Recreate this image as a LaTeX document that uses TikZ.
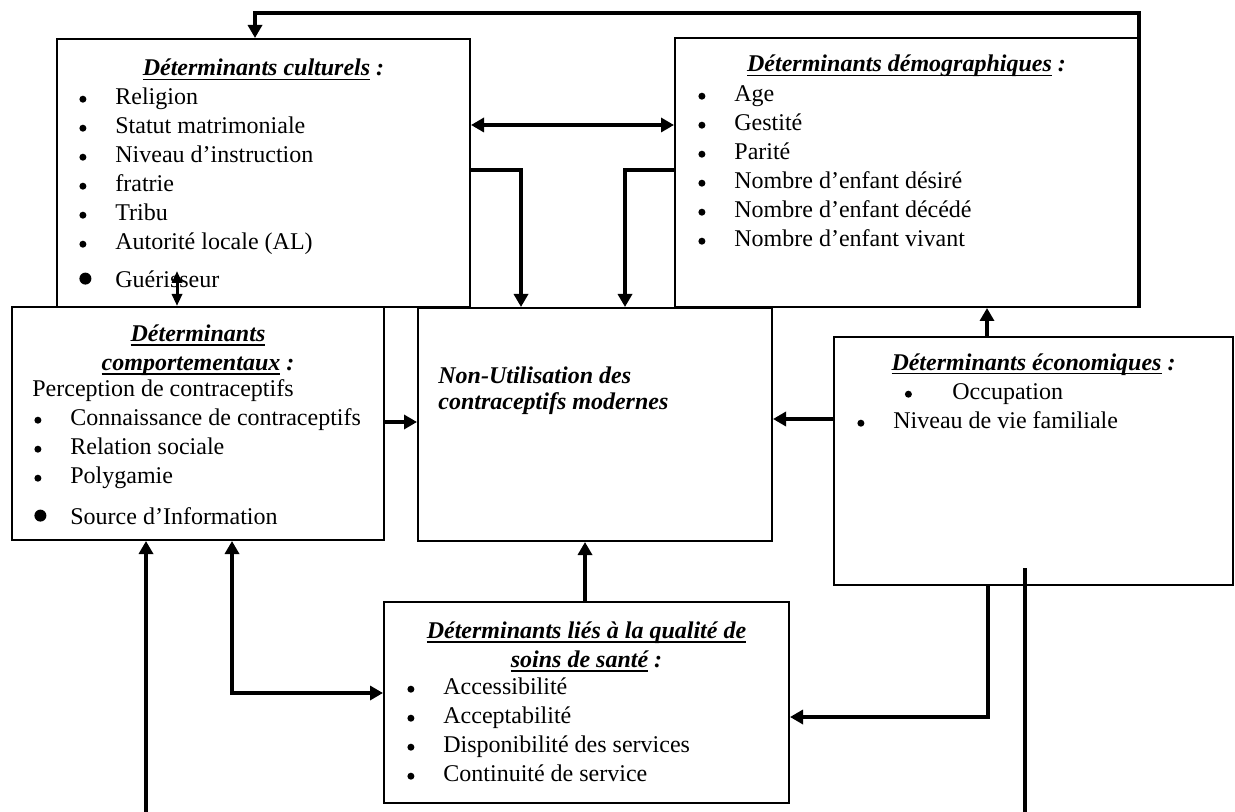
\documentclass[tikz,border=0pt]{standalone}
\usepackage{fontspec}
\setmainfont{Liberation Serif}
\usetikzlibrary{arrows.meta,fit}

\newsavebox\soulbox
\newcommand\soul[1]{\sbox\soulbox{#1}\rlap{\vrule height -1.4pt depth 2.2pt width \wd\soulbox}\usebox\soulbox}
\newcommand\puce{\tikz[baseline=0pt]\fill (1.75pt,2.6pt) circle (1.75pt);}
\newcommand\grossepuce{\tikz[baseline=0pt]\fill (3pt,4.4pt) circle (3pt);}
\newcommand\itm[1]{\strut\makebox[18pt][l]{\puce}#1}
\newcommand\bigitm[1]{\strut\makebox[18pt][l]{\grossepuce}#1}
\newcommand\titre[1]{\soul{#1} :}

\begin{document}
\begin{tikzpicture}[x=0.5pt, y=-0.5pt,
    box/.style={draw, line width=1pt, inner sep=0pt},
    txt/.style={inner sep=0pt, align=left, font=\fontsize{12pt}{14.5pt}\selectfont},
    ttl/.style={inner sep=0pt, align=center, font=\fontsize{12pt}{14.5pt}\selectfont\bfseries\itshape},
    link/.style={line width=2.2pt},
    fine/.style={line width=1.5pt, >={Triangle[length=6pt,width=5pt]}},
    >={Triangle[length=6.5pt,width=7pt]}]
    \path[use as bounding box, fill=white] (0,0) rectangle (1235,812);

    % Cadres
    \node[box, fit={(57,39) (470,307)}] (cult) {};
    \node[box, fit={(675,38) (1138,307)}] (demo) {};
    \node[box, fit={(12,307) (384,540)}] (comp) {};
    \node[box, fit={(418,308) (772,541)}] (nonu) {};
    \node[box, fit={(834,337) (1233,585)}] (econ) {};
    \node[box, fit={(384,602) (789,803)}] (qual) {};

    % Déterminants culturels
    \node[ttl, anchor=base] (cult-t) at (cult.north |- 0,76) {\titre{Déterminants culturels}};
    \node[txt, anchor=north west] (cult-l) at (79,83.7) {\itm{Religion}\\ \itm{Statut matrimoniale}\\
        \itm{Niveau d’instruction}\\ \itm{fratrie}\\ \itm{Tribu}\\ \itm{Autorité locale (AL)}\\[4.5pt]
        \bigitm{Guérisseur}};

    % Déterminants démographiques
    \node[ttl, anchor=base] (demo-t) at (demo.north |- 0,72) {\titre{Déterminants démographiques}};
    \node[txt, anchor=north west] (demo-l) at (698,80.7) {\itm{Age}\\ \itm{Gestité}\\ \itm{Parité}\\
        \itm{Nombre d’enfant désiré}\\ \itm{Nombre d’enfant décédé}\\ \itm{Nombre d’enfant vivant}};

    % Déterminants comportementaux
    \node[ttl, anchor=north] (comp-t) at (comp.north |- 0,320.7) {\strut\soul{Déterminants}\\ \strut\titre{comportementaux}};
    \node[txt, anchor=north west] (comp-l) at (34,375.7) {\strut\hspace{-1pt}Perception de contraceptifs\\
        \itm{Connaissance de contraceptifs}\\ \itm{Relation sociale}\\ \itm{Polygamie}\\[6pt]
        \bigitm{Source d’Information}};

    % Non-utilisation
    \node[txt, anchor=north west, font=\fontsize{12pt}{13pt}\selectfont\bfseries\itshape] (nonu-t) at (438,364.8)
        {\strut Non-Utilisation des\\ \strut contraceptifs modernes};

    % Déterminants économiques
    \node[ttl, anchor=base] (econ-t) at (econ.north |- 0,370) {\titre{Déterminants économiques}};
    \node[txt, anchor=north west] (econ-l) at (857,378.7) {\strut\hspace{23.75pt}\makebox[23.75pt][l]{\puce}Occupation\\
        \itm{Niveau de vie familiale}};

    % Qualité des soins
    \node[ttl, anchor=north] (qual-t) at (qual.north |- 0,617.7) {\strut\soul{Déterminants liés à la qualité de}\\ \strut\titre{soins de santé}};
    \node[txt, anchor=north west] (qual-l) at (407,673.7) {\itm{Accessibilité}\\ \itm{Acceptabilité}\\
        \itm{Disponibilité des services}\\ \itm{Continuité de service}};

    % Liens
    \draw[link, ->] (demo.south east) -- (demo.east |- 0,13) -| (cult.north -| 255,0);
    \draw[link, <->] (cult.east |- 0,125) -- (demo.west |- 0,125);
    \draw[link, ->] (cult.east |- 0,170) -| (nonu.north -| 521,0);
    \draw[link, ->] (demo.west |- 0,170) -| (nonu.north -| 625,0);
    \draw[fine, <->] (comp.north -| 177,0) -- ++(0,-35);
    \draw[link, ->] (comp.east |- 0,422) -- (nonu.west |- 0,422);
    \draw[link, ->] (econ.west |- 0,419) -- (nonu.east |- 0,419);
    \draw[link, ->] (econ.north -| 987,0) -- (demo.south -| 987,0);
    \draw[link, ->] (qual.north -| 585,0) -- (nonu.south -| 585,0);
    \draw[link, <->] (comp.south -| 232,0) |- (qual.west |- 0,693);
    \draw[link, ->] (econ.south -| 988,0) |- (qual.east |- 0,717);

    % Traits coupés en bas
    \coordinate (basg) at (146,812);
    \coordinate (basd) at (1025,812);
    \draw[link, ->] (basg) -- (comp.south -| basg);
    \draw[link] (basd) -- (basd |- 0,568);
\end{tikzpicture}
\end{document}
